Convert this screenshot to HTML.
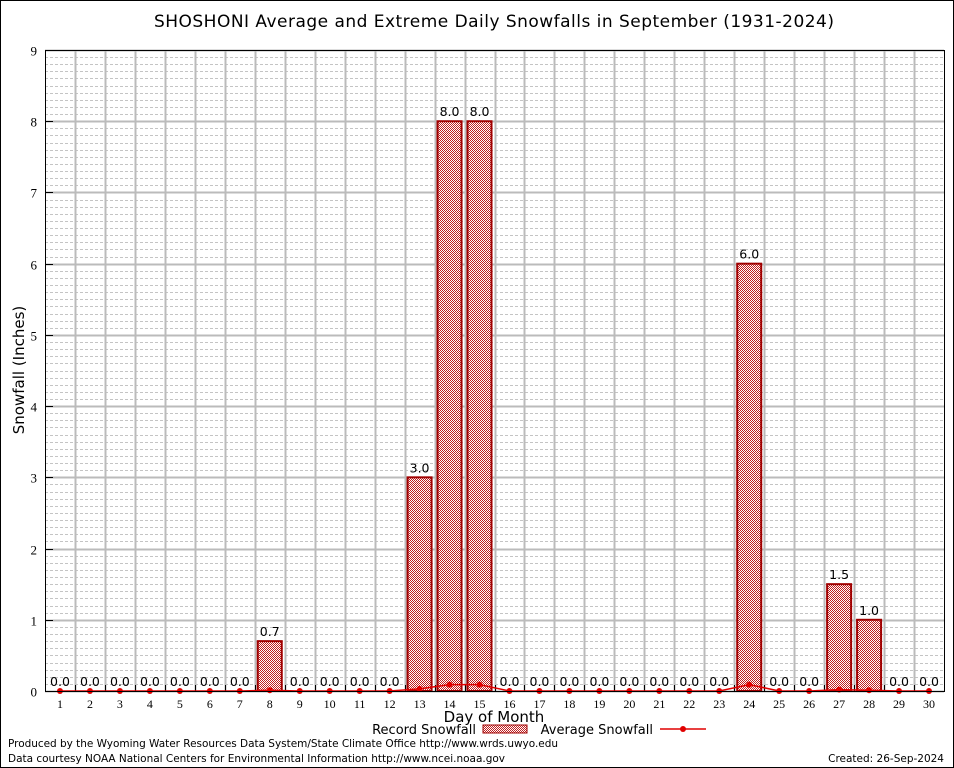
<!DOCTYPE html>
<html><head><meta charset="utf-8"><style>
body{margin:0;background:#fff}
svg{display:block;font-family:"DejaVu Sans","Liberation Sans",sans-serif}
</style></head><body>
<svg id="c" width="954" height="768">
<defs><pattern id="chk" width="2" height="2" patternUnits="userSpaceOnUse"><rect width="2" height="2" fill="#fff"/><rect width="1" height="1" fill="#c02020"/><rect x="1" y="1" width="1" height="1" fill="#c02020"/></pattern></defs>
<rect x="0.5" y="0.5" width="953" height="767" fill="#fff" stroke="#000"/>
<text x="494" y="27" font-size="17" text-anchor="middle" textLength="680">SHOSHONI Average and Extreme Daily Snowfalls in September (1931-2024)</text>
<g id="grid"></g><g id="bars"></g><g id="avg"></g>
<rect x="45.5" y="50.5" width="899" height="641" fill="none" stroke="#000"/>
<text transform="translate(24,370) rotate(-90)" font-size="15" text-anchor="middle">Snowfall (Inches)</text>
<text x="494" y="722" font-size="15" text-anchor="middle">Day of Month</text>
<g><text x="476" y="734" font-size="13" text-anchor="end">Record Snowfall</text><rect x="483" y="725" width="44" height="8" fill="url(#chk)" stroke="#a00000"/></g>
<g><text x="653" y="734" font-size="13" text-anchor="end">Average Snowfall</text><line x1="660" y1="729" x2="706" y2="729" stroke="#e00000" stroke-width="1.5"/><circle cx="683" cy="729" r="3" fill="#e00000"/></g>
<text x="8" y="747" font-size="10.5" textLength="550">Produced by the Wyoming Water Resources Data System/State Climate Office http://www.wrds.uwyo.edu</text>
<text x="8" y="762" font-size="10.5" textLength="497">Data courtesy NOAA National Centers for Environmental Information http://www.ncei.noaa.gov</text>
<text x="944" y="762" font-size="10.5" text-anchor="end">Created: 26-Sep-2024</text>
</svg>
<script>
const days=[1,2,3,4,5,6,7,8,9,10,11,12,13,14,15,16,17,18,19,20,21,22,23,24,25,26,27,28,29,30];
const recordVals=[0,0,0,0,0,0,0,0.7,0,0,0,0,3.0,8.0,8.0,0,0,0,0,0,0,0,0,6.0,0,0,1.5,1.0,0,0];
const avgVals=[0,0,0,0,0,0,0,0.01,0,0,0,0,0.03,0.09,0.09,0,0,0,0,0,0,0,0,0.09,0,0,0.02,0.01,0,0];
const yTicks=[0,1,2,3,4,5,6,7,8,9];
const NS='http://www.w3.org/2000/svg';
const X0=45,X1=944,Y0=691,Y1=50,YMAX=9;
const dw=(X1-X0)/days.length;
const xc=d=>X0+(d-0.5)*dw;
const ys=v=>Y0-v/YMAX*(Y0-Y1);
function mk(tag,at,parent){const e=document.createElementNS(NS,tag);for(const k in at)e.setAttribute(k,at[k]);parent.appendChild(e);return e;}
const g=document.getElementById('grid');
for(let v=0;v<YMAX;v+=0.1){const y=Math.round(ys(v))+0.5;
 const l=mk('line',{x1:X0,x2:X1,y1:y,y2:y,stroke:'#c4c4c4','stroke-dasharray':'3,2'},g);
 
 }
yTicks.forEach(t=>{const y=Math.round(ys(t))+0.5;
 const l=mk('line',{x1:X0,x2:X1,y1:y,y2:y,stroke:'#bbb','stroke-width':2},g);
 
 
 mk('line',{x1:X0,x2:X0+8,y1:y,y2:y,stroke:'#000'},g);
 const tx=mk('text',{x:37,y:y+5,'font-size':13,'text-anchor':'end','font-family':'Liberation Serif,serif'},g);tx.textContent=t;
 
 });
for(let k=1;k<days.length;k++){const x=Math.round(X0+k*dw)+0.5;
 const l=mk('line',{x1:x,x2:x,y1:Y1,y2:Y0,stroke:'#bbb','stroke-width':2},g);
 
 
 mk('line',{x1:x,x2:x,y1:Y0,y2:Y0-6,stroke:'#000'},g);}
days.forEach(d=>{const tx=mk('text',{x:xc(d),y:708,'font-size':12,'text-anchor':'middle','font-family':'Liberation Serif,serif'},g);tx.textContent=d;
 
 });
const b=document.getElementById('bars');
days.forEach((d,i)=>{const v=recordVals[i];
 if(v>0){const r=mk('rect',{x:xc(d)-12,y:ys(v),width:24,height:Y0-ys(v),fill:'url(#chk)',stroke:'#a00000','stroke-width':2},b);
 
 }
 const t=mk('text',{x:xc(d),y:ys(v)-5,'font-size':12.5,'text-anchor':'middle'},b);t.textContent=v.toFixed(1);
 
 });
const a=document.getElementById('avg');
const pl=mk('polyline',{points:days.map((d,i)=>xc(d)+','+ys(avgVals[i])).join(' '),fill:'none',stroke:'#e00000','stroke-width':1.5},a);


days.forEach((d,i)=>{const c=mk('circle',{cx:xc(d),cy:ys(avgVals[i]),r:3,fill:'#e00000'},a);
 
 });
</script>
</body></html>
